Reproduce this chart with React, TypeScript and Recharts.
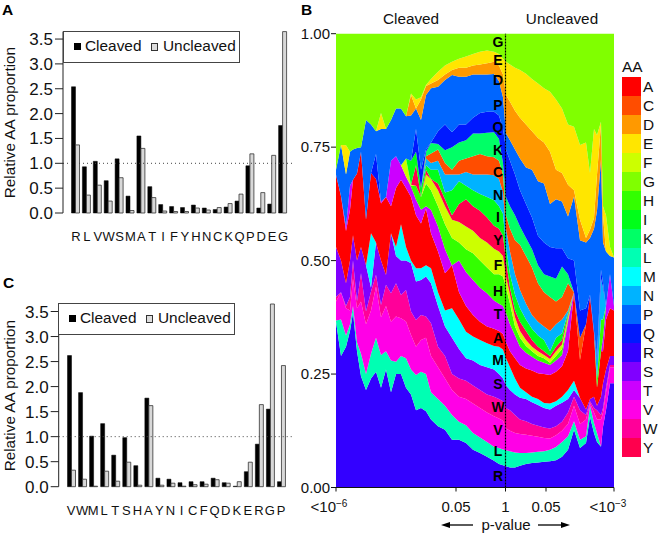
import React from "react";
import {
  AreaChart,
  Area,
  BarChart,
  Bar,
  XAxis,
  YAxis,
  ReferenceLine,
  ReferenceDot,
} from "recharts";

const FONT = "'Liberation Sans', Arial, sans-serif";

// panel A
const aminoA = ["R", "L", "V", "W", "S", "M", "A", "T", "I", "F", "Y", "H", "N", "C", "K", "Q", "P", "D", "E", "G"];
const cleavedA = [2.54, 0.93, 1.04, 0.65, 1.09, 0.34, 1.55, 0.53, 0.17, 0.13, 0.11, 0.16, 0.1, 0.07, 0.12, 0.24, 0.95, 0.1, 0.18, 1.76];
const uncleavedA = [1.37, 0.36, 0.56, 0.24, 0.71, 0.05, 1.3, 0.31, 0.04, 0.03, 0.03, 0.1, 0.06, 0.11, 0.19, 0.38, 1.19, 0.41, 1.16, 3.65];

// panel C
const aminoC = ["V", "W", "M", "L", "T", "S", "H", "A", "Y", "N", "I", "C", "F", "Q", "D", "K", "E", "R", "G", "P"];
const cleavedC = [2.62, 1.88, 1.01, 1.26, 0.63, 0.98, 0.42, 1.77, 0.17, 0.15, 0.08, 0.1, 0.1, 0.17, 0.08, 0.01, 0.3, 0.85, 1.55, 0.1];
const uncleavedC = [0.33, 0.15, 0.01, 0.31, 0.11, 0.49, 0.03, 1.62, 0.03, 0.07, 0.01, 0.04, 0.05, 0.14, 0.07, 0.1, 0.49, 1.64, 3.65, 2.42];

// panel B: position along the p-value axis
const pos = [0, 5, 10, 14, 17, 21, 25, 30, 35, 40, 45, 50, 55, 60, 65, 70, 75, 80, 85, 90, 95, 102, 109, 116, 123, 130, 137, 144, 151, 158, 163, 167, 170, 174, 179, 184, 190, 196, 202, 208, 214, 220, 226, 232, 238, 244, 250, 254, 258, 261, 265, 267, 270, 274, 278];

// panel B: cumulative proportion at the top of each band
const topR = [.365, .29, .31, .345, .385, .30, .245, .215, .24, .255, .22, .26, .21, .25, .25, .22, .205, .17, .175, .168, .15, .135, .127, .105, .105, .098, .083, .076, .068, .059, .052, .049, .047, .044, .044, .048, .052, .054, .055, .057, .058, .06, .068, .083, .127, .087, .098, .156, .12, .10, .09, .134, .171, .23, .23];
const topL = [.368, .37, .335, .36, .40, .32, .295, .25, .295, .33, .292, .30, .28, .277, .29, .285, .26, .248, .255, .25, .21, .195, .18, .16, .145, .137, .12, .11, .10, .09, .087, .084, .082, .08, .077, .076, .076, .077, .079, .08, .083, .089, .10, .113, .146, .105, .113, .18, .142, .12, .09, .134, .171, .23, .23];
const topV = [.41, .43, .395, .39, .46, .395, .41, .36, .39, .443, .375, .40, .365, .377, .373, .366, .336, .31, .325, .33, .29, .265, .24, .215, .20, .195, .185, .175, .165, .157, .152, .147, .13, .125, .12, .118, .116, .114, .112, .109, .108, .115, .125, .14, .18, .14, .15, .186, .165, .15, .15, .165, .21, .265, .265];
const topW = [.42, .43, .40, .42, .50, .41, .472, .388, .432, .469, .402, .447, .428, .45, .424, .435, .388, .369, .38, .377, .362, .31, .29, .25, .24, .235, .225, .215, .205, .20, .195, .19, .175, .17, .16, .15, .146, .14, .136, .132, .13, .135, .145, .165, .20, .17, .16, .19, .175, .17, .16, .175, .22, .27, .27];
const topS = [.53, .50, .45, .50, .556, .50, .53, .49, .44, .54, .50, .468, .56, .51, .50, .50, .494, .454, .457, .465, .45, .40, .355, .33, .305, .285, .28, .27, .265, .26, .25, .24, .225, .215, .205, .198, .195, .188, .182, .175, .172, .18, .187, .195, .215, .197, .172, .195, .20, .18, .20, .23, .26, .29, .29];
const topM = [.53, .50, .45, .50, .556, .50, .53, .49, .56, .54, .50, .468, .56, .53, .58, .53, .50, .483, .483, .49, .483, .43, .39, .395, .37, .343, .333, .325, .318, .312, .31, .304, .285, .265, .24, .22, .21, .20, .195, .186, .185, .19, .20, .215, .235, .197, .172, .195, .20, .18, .20, .23, .26, .29, .29];
const topA = [.689, .642, .565, .612, .678, .692, .74, .59, .693, .68, .626, .64, .62, .66, .678, .66, .64, .60, .582, .615, .56, .52, .472, .49, .43, .40, .38, .365, .355, .35, .345, .338, .32, .30, .285, .27, .262, .258, .252, .25, .248, .255, .267, .30, .429, .281, .36, .42, .34, .22, .30, .30, .37, .395, .39];
const topT = [.689, .642, .575, .665, .678, .692, .74, .59, .693, .68, .63, .64, .72, .73, .71, .685, .663, .634, .612, .62, .612, .575, .525, .49, .50, .475, .457, .44, .428, .412, .405, .40, .385, .36, .335, .31, .297, .288, .28, .275, .27, .28, .292, .365, .43, .281, .36, .42, .34, .22, .30, .33, .40, .47, .40];
const topH = [.689, .642, .575, .665, .678, .692, .74, .59, .693, .68, .63, .64, .72, .73, .71, .685, .665, .665, .64, .67, .655, .62, .58, .55, .54, .525, .516, .50, .485, .47, .47, .465, .44, .405, .355, .33, .312, .30, .29, .285, .275, .29, .305, .37, .43, .281, .36, .42, .34, .24, .37, .37, .40, .47, .40];
const topF = [.689, .642, .575, .665, .678, .692, .74, .59, .693, .68, .63, .64, .72, .73, .71, .725, .667, .665, .64, .69, .68, .655, .62, .59, .585, .575, .566, .55, .54, .526, .52, .51, .465, .425, .375, .345, .325, .31, .30, .292, .283, .30, .315, .375, .43, .281, .36, .42, .34, .24, .37, .37, .40, .47, .40];
const topY = [.689, .642, .575, .665, .678, .692, .74, .59, .693, .68, .63, .64, .72, .73, .71, .725, .667, .71, .64, .70, .68, .67, .635, .60, .625, .635, .62, .61, .595, .577, .57, .555, .50, .44, .39, .365, .345, .325, .31, .30, .29, .31, .325, .38, .43, .281, .36, .42, .34, .24, .37, .37, .40, .47, .40];
const topI = [.689, .642, .575, .665, .678, .692, .74, .59, .693, .68, .63, .64, .72, .73, .71, .725, .72, .74, .66, .71, .70, .70, .65, .655, .675, .665, .655, .647, .64, .633, .62, .603, .53, .47, .425, .395, .37, .35, .335, .325, .30, .33, .34, .385, .43, .281, .36, .42, .34, .24, .37, .37, .40, .47, .40];
const topN = [.689, .642, .575, .665, .678, .692, .74, .59, .693, .68, .63, .64, .72, .73, .71, .725, .72, .74, .66, .725, .715, .72, .69, .69, .69, .695, .69, .69, .69, .688, .68, .65, .57, .52, .47, .435, .405, .38, .365, .355, .345, .36, .37, .39, .43, .281, .36, .42, .34, .28, .46, .44, .40, .47, .40];
const topC = [.689, .642, .575, .665, .678, .692, .74, .59, .693, .68, .63, .64, .72, .73, .71, .725, .72, .74, .66, .73, .736, .745, .715, .70, .72, .725, .73, .735, .73, .728, .72, .69, .60, .57, .545, .535, .51, .485, .45, .43, .42, .41, .42, .45, .43, .33, .36, .42, .34, .28, .46, .44, .40, .47, .40];
const topK = [.689, .642, .575, .665, .678, .692, .74, .59, .693, .68, .63, .64, .72, .73, .71, .725, .72, .74, .66, .74, .759, .757, .743, .75, .76, .765, .78, .78, .782, .783, .768, .715, .64, .62, .60, .575, .55, .525, .49, .47, .465, .46, .487, .47, .43, .33, .36, .42, .34, .28, .46, .44, .40, .47, .40];
const topQ = [.689, .642, .575, .665, .678, .692, .74, .59, .693, .735, .63, .64, .72, .73, .71, .725, .72, .79, .70, .745, .76, .785, .80, .783, .80, .80, .815, .825, .828, .828, .82, .79, .745, .72, .69, .655, .625, .595, .555, .54, .53, .527, .527, .505, .50, .39, .395, .425, .345, .29, .48, .45, .40, .47, .40];
const topP = [.70, .755, .69, .74, .745, .748, .75, .81, .80, .785, .79, .79, .81, .835, .835, .818, .82, .835, .81, .865, .88, .883, .898, .909, .905, .905, .91, .91, .91, .911, .895, .86, .78, .765, .745, .725, .705, .70, .675, .67, .625, .635, .63, .597, .641, .545, .54, .55, .57, .61, .722, .54, .52, .51, .507];
const topD = [.70, .755, .69, .72, .745, .748, .75, .81, .80, .785, .79, .79, .81, .835, .835, .818, .865, .835, .855, .885, .89, .898, .91, .92, .925, .925, .93, .932, .935, .938, .93, .91, .865, .85, .83, .815, .80, .785, .77, .76, .74, .70, .693, .667, .655, .59, .55, .568, .594, .69, .80, .60, .52, .51, .507];
const topE = [.70, .755, .754, .74, .745, .748, .75, .81, .80, .785, .825, .79, .81, .835, .835, .818, .868, .855, .86, .887, .90, .916, .93, .938, .945, .95, .955, .96, .963, .96, .955, .945, .938, .932, .925, .92, .912, .90, .89, .88, .872, .855, .835, .80, .795, .755, .76, .693, .79, .777, .806, .62, .60, .53, .507];
const topG = pos.map(() => 1);

// bottom-up order of the bands
const stackOrder = ["R", "L", "V", "W", "S", "M", "A", "T", "H", "F", "Y", "I", "N", "C", "K", "Q", "P", "D", "E", "G"];
const stackTops = [topR, topL, topV, topW, topS, topM, topA, topT, topH, topF, topY, topI, topN, topC, topK, topQ, topP, topD, topE, topG];

const aaLetters = ["A", "C", "D", "E", "F", "G", "H", "I", "K", "L", "M", "N", "P", "Q", "R", "S", "T", "V", "W", "Y"];
const aaColors = ["#ff0000", "#ff4d00", "#ff9900", "#ffe600", "#ccff00", "#80ff00", "#33ff00", "#00ff19", "#00ff66", "#00ffb3", "#00ffff", "#00b3ff", "#0066ff", "#0019ff", "#3300ff", "#8000ff", "#cc00ff", "#ff00e6", "#ff0099", "#ff004d"];
const colorOf = (aa: string) => aaColors[aaLetters.indexOf(aa)];

// proportion at which each letter of the column beside p = 1 is written
const columnLetters = ["G", "E", "D", "P", "Q", "K", "C", "N", "I", "Y", "F", "H", "T", "A", "M", "S", "W", "V", "L", "R"];
const columnLevels = [0.982, 0.942, 0.898, 0.843, 0.795, 0.744, 0.696, 0.645, 0.595, 0.546, 0.49, 0.432, 0.383, 0.33, 0.28, 0.227, 0.178, 0.127, 0.08, 0.025];

const yTicksBar = [0, 0.5, 1, 1.5, 2, 2.5, 3, 3.5];
const yTicksB = [0, 0.25, 0.5, 0.75, 1];
const xTicksB = [0, 120, 169.5, 210, 278];
const xTickText: Record<number, string> = { 120: "0.05", 169.5: "1", 210: "0.05" };

const stackedData = pos.map((p, i) => {
  const row: Record<string, number> = { pos: p };
  let prev = 0;
  stackOrder.forEach((aa, s) => {
    const top = Math.max(prev, stackTops[s][i]);
    row[aa] = top - prev;
    prev = top;
  });
  return row;
});

const barRows = (names: string[], cleaved: number[], uncleaved: number[]) =>
  names.map((name, i) => ({ name, cleaved: cleaved[i], uncleaved: uncleaved[i] }));

const BarLegend = ({ left, top }: { left: number; top: number }) => (
  <div
    style={{
      position: "absolute",
      left,
      top,
      width: 175,
      height: 30,
      border: "1px solid #444",
      background: "#fff",
      boxSizing: "content-box",
      fontFamily: FONT,
      fontSize: 15.4,
      color: "#111",
    }}
  >
    <span style={{ position: "absolute", left: 10, top: 11, width: 7, height: 7, background: "#000" }} />
    <span style={{ position: "absolute", left: 21, top: 5, lineHeight: "18px" }}>Cleaved</span>
    <span style={{ position: "absolute", left: 87, top: 11, width: 5, height: 6, background: "#ddd", border: "1px solid #333" }} />
    <span style={{ position: "absolute", left: 99, top: 5, lineHeight: "18px" }}>Uncleaved</span>
  </div>
);

const BarPanel = ({ rows, top, axisX, padLeft, padRight, marginTop, xHeight }: any) => (
  <div style={{ position: "absolute", left: 0, top }}>
    <BarChart
      width={300}
      height={260}
      data={rows}
      barSize={4}
      barGap={0}
      barCategoryGap={0}
      margin={{ top: marginTop, right: 7, bottom: 0, left: 0 }}
    >
      <XAxis
        dataKey="name"
        height={xHeight}
        interval={0}
        axisLine={false}
        tickLine={false}
        tickMargin={13}
        padding={{ left: padLeft, right: padRight }}
        tick={{ fontSize: 13, fontFamily: FONT, fill: "#111" }}
      />
      <YAxis
        width={axisX}
        domain={[0, 3.65]}
        ticks={yTicksBar}
        interval={0}
        tickFormatter={(v: number) => v.toFixed(1)}
        tickSize={8}
        tickMargin={2}
        stroke="#222"
        tick={{ fontSize: 17, fontFamily: FONT, fill: "#111" }}
        label={{
          value: "Relative AA proportion",
          angle: -90,
          position: "insideLeft",
          offset: 10,
          dy: 76,
          style: { fontSize: 15.3, fontFamily: FONT, fill: "#111" },
        }}
      />
      <ReferenceLine y={1} stroke="#444" strokeDasharray="1 3" />
      <Bar dataKey="cleaved" fill="#000" stroke="#000" strokeWidth={0.5} isAnimationActive={false} />
      <Bar dataKey="uncleaved" fill="#d8d8d8" stroke="#333" strokeWidth={0.8} isAnimationActive={false} />
    </BarChart>
  </div>
);

const PValueTick = ({ x, y, payload }: any) => {
  const v = payload.value;
  const base = { fontFamily: FONT, fontSize: 15, fill: "#111" };
  if (v === 0 || v === 278) {
    return (
      <text x={v === 0 ? x - 7 : x - 6} y={y + 18} textAnchor="middle" {...base}>
        {"<10"}
        <tspan dy={-5} fontSize={10}>
          {v === 0 ? "\u22126" : "\u22123"}
        </tspan>
      </text>
    );
  }
  return (
    <text x={x} y={y + 18} textAnchor="middle" {...base}>
      {xTickText[v]}
    </text>
  );
};

const StackedPanel = () => (
  <div style={{ position: "absolute", left: 290, top: 0 }}>
    <AreaChart
      width={370}
      height={535}
      data={stackedData}
      margin={{ top: 33.7, right: 46, bottom: 0, left: 0 }}
    >
      <XAxis
        type="number"
        dataKey="pos"
        height={47.5}
        domain={[0, 278]}
        ticks={xTicksB}
        interval={0}
        tickSize={4}
        stroke="#111"
        tick={<PValueTick />}
      />
      <YAxis
        width={46}
        domain={[0, 1]}
        ticks={yTicksB}
        interval={0}
        tickFormatter={(v: number) => v.toFixed(2)}
        axisLine={false}
        tickSize={5}
        tickMargin={1}
        stroke="#111"
        tick={{ fontSize: 15, fontFamily: FONT, fill: "#111" }}
      />
      {stackOrder.map((aa) => (
        <Area
          key={aa}
          type="linear"
          dataKey={aa}
          stackId="aa"
          fill={colorOf(aa)}
          fillOpacity={1}
          stroke="none"
          dot={false}
          activeDot={false}
          isAnimationActive={false}
        />
      ))}
      <ReferenceLine x={169.5} stroke="#000" strokeWidth={1.2} strokeDasharray="2 1" />
      {columnLetters.map((letter, i) => (
        <ReferenceDot
          key={letter}
          x={162}
          y={columnLevels[i]}
          r={0}
          stroke="none"
          ifOverflow="visible"
          label={{
            value: letter,
            position: "center",
            style: { fontSize: 14, fontWeight: 700, fontFamily: FONT, fill: "#000" },
          }}
        />
      ))}
    </AreaChart>
  </div>
);

const AALegend = () => (
  <div style={{ position: "absolute", left: 622, top: 58, fontFamily: FONT, fontSize: 15.4, color: "#111" }}>
    <div style={{ lineHeight: "18px", height: 19 }}>AA</div>
    {aaLetters.map((aa, i) => (
      <div key={aa} style={{ display: "flex", height: 19, lineHeight: "19px" }}>
        <span style={{ width: 19, height: 19, background: aaColors[i], display: "block" }} />
        <span style={{ marginLeft: 2 }}>{aa}</span>
      </div>
    ))}
  </div>
);

const PValueArrows = () => (
  <svg width={660} height={535} style={{ position: "absolute", left: 0, top: 0, pointerEvents: "none" }}>
    <line x1={448} y1={525} x2={473} y2={525} stroke="#000" strokeWidth={1.3} />
    <polygon points="441,525 450,522 450,528" fill="#000" />
    <line x1={538} y1={525} x2={563} y2={525} stroke="#000" strokeWidth={1.3} />
    <polygon points="570,525 561,522 561,528" fill="#000" />
    <text x={506} y={530} textAnchor="middle" fontFamily={FONT} fontSize={15} fill="#111">
      p-value
    </text>
    <text x={411} y={24} textAnchor="middle" fontFamily={FONT} fontSize={15.3} fill="#111">
      Cleaved
    </text>
    <text x={562} y={24} textAnchor="middle" fontFamily={FONT} fontSize={15.3} fill="#111">
      Uncleaved
    </text>
    <text x={2} y={15} fontFamily={FONT} fontSize={15.5} fontWeight={700} fill="#000">
      A
    </text>
    <text x={301} y={15} fontFamily={FONT} fontSize={15.5} fontWeight={700} fill="#000">
      B
    </text>
    <text x={3} y={288} fontFamily={FONT} fontSize={15.5} fontWeight={700} fill="#000">
      C
    </text>
  </svg>
);

const App = () => (
  <div style={{ position: "absolute", left: 0, top: 0, width: 660, height: 535, background: "#fff", overflow: "hidden" }}>
    <BarPanel rows={barRows(aminoA, cleavedA, uncleavedA)} top={0} axisX={63} padLeft={7.5} padRight={4.5} marginTop={31.6} xHeight={47} />
    <BarLegend left={63} top={31} />
    <BarPanel rows={barRows(aminoC, cleavedC, uncleavedC)} top={270} axisX={58.7} padLeft={6.8} padRight={6.5} marginTop={34} xHeight={43.3} />
    <BarLegend left={58} top={303} />
    <StackedPanel />
    <AALegend />
    <PValueArrows />
  </div>
);

export default App;
